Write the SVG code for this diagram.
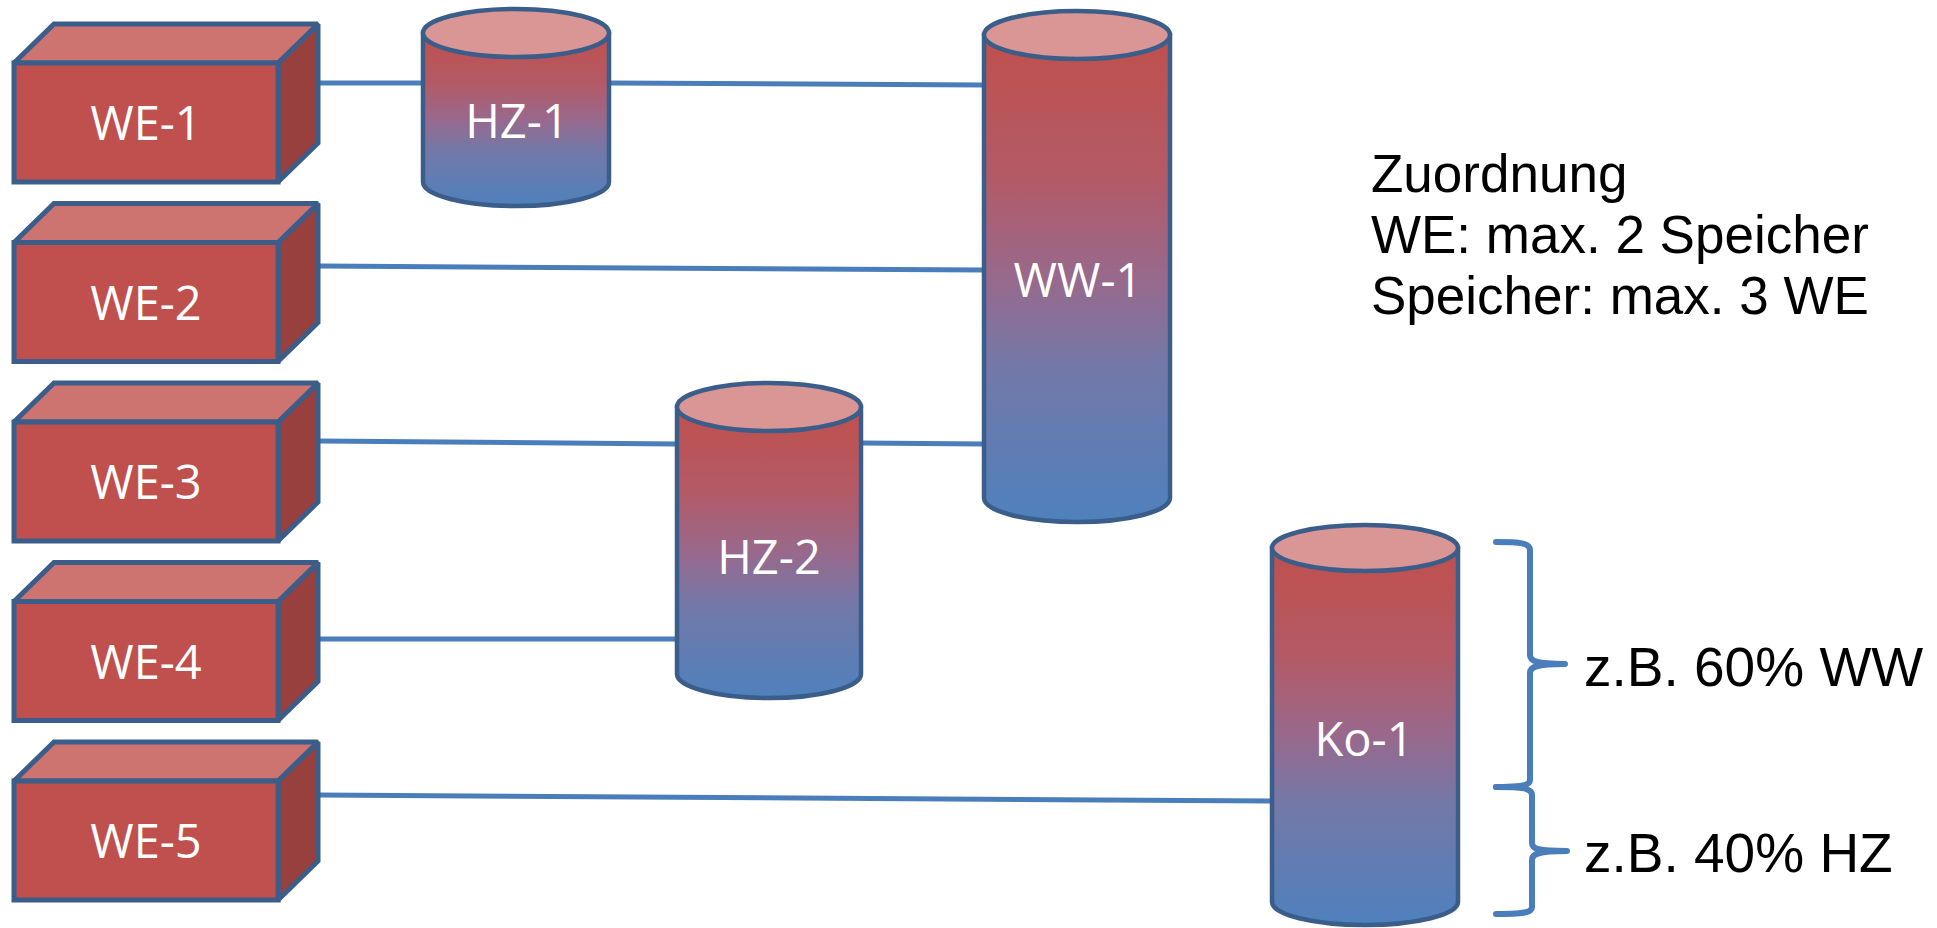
<svg xmlns="http://www.w3.org/2000/svg" width="1937" height="928" viewBox="0 0 1937 928">
  <defs>
    <linearGradient id="tankFill" x1="0" y1="0" x2="0" y2="1">
      <stop offset="0" stop-color="#c0504d"/>
      <stop offset="0.29" stop-color="#b35a66"/>
      <stop offset="0.5" stop-color="#98698c"/>
      <stop offset="0.68" stop-color="#7378a8"/>
      <stop offset="1" stop-color="#4f81bd"/>
    </linearGradient>
    <!-- box shape reused for every WE unit -->
    <g id="box">
      <polygon class="side" points="278,63 318,24 318,143 278,182"/>
      <polygon class="top" points="14,63 54,24 318,24 278,63"/>
      <rect class="front" x="14" y="63" width="264" height="119"/>
    </g>
    <style>
      .front, .top, .side { stroke: #3b5d8a; stroke-width: 5; stroke-linejoin: miter; stroke-miterlimit: 1.5; }
      .front { fill: #c0504d; }
      .top { fill: #cd7370; }
      .side { fill: #98403e; }
      .body { fill: url(#tankFill); stroke: #3b5d8a; stroke-width: 4.5; }
      .lid { fill: #d99694; stroke: #3b5d8a; stroke-width: 4.5; }
      .lbl { font-family: "Open Sans", "Noto Sans", sans-serif; font-size: 47px; fill: #ffffff; text-anchor: middle; }
      .pipe { stroke: #4a7ebb; stroke-width: 5; fill: none; }
      .brace { stroke: #4a7ebb; stroke-width: 6; fill: none; stroke-linecap: round; stroke-linejoin: round; }
      .note { font-family: "Liberation Sans", Arial, sans-serif; fill: #000000; }
    </style>
  </defs>

  <rect width="1937" height="928" fill="#ffffff"/>

  <!-- connecting pipes -->
  <g id="connectors">
    <line class="pipe" x1="319" y1="83" x2="422" y2="83"/>
    <line class="pipe" x1="610" y1="83" x2="984" y2="85"/>
    <line class="pipe" x1="319" y1="266" x2="984" y2="270"/>
    <line class="pipe" x1="319" y1="441" x2="677" y2="444"/>
    <line class="pipe" x1="861" y1="443" x2="984" y2="444"/>
    <line class="pipe" x1="319" y1="639" x2="677" y2="639"/>
    <line class="pipe" x1="319" y1="795" x2="1272" y2="801"/>
  </g>

  <!-- heat generators -->
  <g id="we-1">
    <use href="#box"/>
    <text class="lbl" x="146" y="140">WE-1</text>
  </g>
  <g id="we-2" transform="translate(0,179.5)">
    <use href="#box"/>
    <text class="lbl" x="146" y="140">WE-2</text>
  </g>
  <g id="we-3" transform="translate(0,359)">
    <use href="#box"/>
    <text class="lbl" x="146" y="140">WE-3</text>
  </g>
  <g id="we-4" transform="translate(0,538.5)">
    <use href="#box"/>
    <text class="lbl" x="146" y="140">WE-4</text>
  </g>
  <g id="we-5" transform="translate(0,718)">
    <use href="#box"/>
    <text class="lbl" x="146" y="140">WE-5</text>
  </g>

  <!-- storage tanks -->
  <g id="hz-1">
    <path class="body" d="M423,33 V182 A93,24 0 0 0 609,182 V33 Z"/>
    <ellipse class="lid" cx="516" cy="33" rx="93" ry="24"/>
    <text class="lbl" x="517" y="138">HZ-1</text>
  </g>
  <g id="ww-1">
    <path class="body" d="M984,35 V498 A93,24 0 0 0 1170,498 V35 Z"/>
    <ellipse class="lid" cx="1077" cy="35" rx="93" ry="24"/>
    <text class="lbl" x="1078" y="297">WW-1</text>
  </g>
  <g id="hz-2">
    <path class="body" d="M677,407 V674 A92,24 0 0 0 861,674 V407 Z"/>
    <ellipse class="lid" cx="769" cy="407" rx="92" ry="24"/>
    <text class="lbl" x="769" y="574">HZ-2</text>
  </g>
  <g id="ko-1">
    <path class="body" d="M1272,548 V902 A93,23 0 0 0 1458,902 V548 Z"/>
    <ellipse class="lid" cx="1365" cy="548" rx="93" ry="23"/>
    <text class="lbl" x="1364" y="756">Ko-1</text>
  </g>

  <!-- split of the combined tank -->
  <g id="split">
    <path class="brace" d="M1496,542 C1520,542 1530,543 1530,550 V655 C1530,661 1536,664 1565,664 C1536,664 1530,667 1530,673 V780 C1530,786 1520,787 1496,787"/>
    <path class="brace" d="M1496,787 C1522,787 1532,788 1532,795 V843 C1532,849 1538,851 1567,851 C1538,851 1532,854 1532,860 V907 C1532,913 1522,914 1496,914"/>
    <text class="note" x="1584" y="686" font-size="55">z.B. 60% WW</text>
    <text class="note" x="1584" y="872" font-size="55">z.B. 40% HZ</text>
  </g>

  <!-- assignment rules -->
  <g id="rules" class="note" font-size="53">
    <text x="1371" y="192">Zuordnung</text>
    <text x="1371" y="253">WE: max. 2 Speicher</text>
    <text x="1371" y="314">Speicher: max. 3 WE</text>
  </g>
</svg>
